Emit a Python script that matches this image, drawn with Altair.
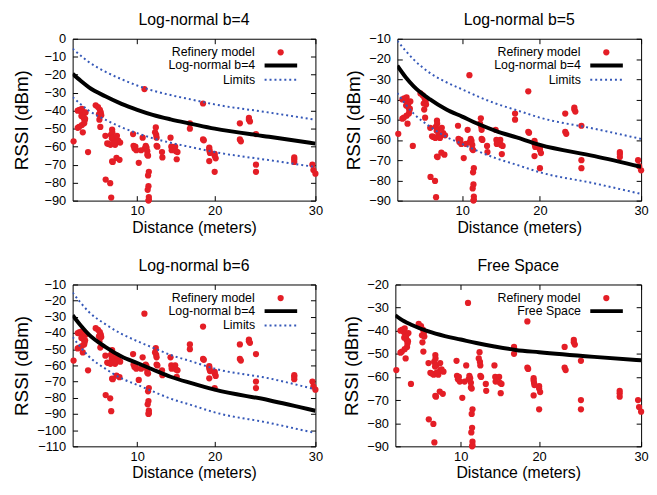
import altair as alt
import pandas as pd

# ---- measured points (distance in meters, RSSI in dBm) ----
DIST = [3.1,
        3.55, 3.75, 3.9, 4.0, 4.1, 4.15, 4.2, 4.3, 4.35, 4.25, 4.0, 3.7, 3.55, 4.1, 3.95, 4.4,
        4.67,
        5.5, 5.75, 5.95, 6.05, 5.85, 6.1, 5.9, 6.0,
        6.55, 6.75, 6.9, 7.15, 7.28, 7.3, 7.25, 7.4, 7.6, 7.8, 7.95, 8.15, 7.8, 7.75, 8.08, 7.28, 7.35,
        6.58, 7.07, 7.18, 7.1, 7.45,
        9.55, 9.6, 9.7, 9.9, 9.8, 10.2, 10.5, 10.7, 10.93, 11.0, 11.1, 11.2, 11.3, 11.3, 11.4,
        11.5, 11.4, 11.45, 11.35, 11.5, 11.5, 11.45,
        12.3, 12.4, 12.45, 12.5, 12.5, 12.6, 13.2, 13.25,
        14.3, 14.4, 14.45, 14.9, 15.0, 15.1, 15.2,
        16.8, 16.8,
        18.5, 18.5, 18.6,
        19.3, 19.3, 19.35, 19.4, 19.3,
        20.0, 20.0, 20.1, 20.0,
        22.5, 22.5, 22.6,
        23.4, 23.4, 23.5,
        24.1, 24.1, 24.1,
        27.9, 27.9, 27.9,
        29.7, 29.8, 30.0]
RSSI = [-57,
        -40, -39.5, -40.5, -39, -41, -42.5, -44, -45.5, -44.5, -47, -48, -49, -49.5, -52, -43, -41,
        -63,
        -37, -38, -39.5, -41, -42, -42.5, -45, -49,
        -54, -58.2, -58.5, -53.5, -50.5, -52, -55.5, -55, -59, -57.3, -56.7, -57.7, -54, -66.3, -67.3, -68.2, -68.5,
        -78.3, -80.3, -88.3, -59, -58,
        -53, -59.5, -61, -62, -60, -69, -62, -55, -28, -61, -59.5, -60.5, -62.5, -64.5, -65,
        -74, -76, -82, -84, -88, -89.5, -90,
        -52, -49.3, -53.5, -55, -59.5, -60, -63, -66,
        -55, -60, -62, -60, -62.5, -67, -63,
        -47, -50,
        -36, -56, -56.5,
        -60.5, -61.5, -62.5, -63.5, -68,
        -64, -65, -66.5, -74,
        -47, -56, -57,
        -44, -45, -46,
        -53, -70, -74,
        -66, -67, -68.5,
        -70, -73, -75]

# ---- model curves ----
CURVE_X = [3, 3.9, 4.77, 6.54, 8.3, 10, 12, 14.3, 17, 20, 25.4, 30]
MODEL4 = [-19.5, -23.5, -27, -32, -36.2, -39.5, -42.3, -44.8, -47.3, -50, -54.5, -58.3]
UPPER4 = [-5.5, -9.5, -13, -18.3, -22.5, -26, -28.8, -31.3, -33.8, -36.5, -41, -45]
LOWER4 = [-32.5, -36.5, -40, -45, -49.2, -52.5, -55.3, -57.8, -60.3, -63, -67.5, -71.3]
MODEL5 = [-23.3, -29, -33.5, -40, -45, -48.5, -52, -55.5, -58.8, -62.5, -68, -73.3]
UPPER5 = [-11, -16, -20.3, -27, -31.5, -35, -38.5, -42, -45.3, -49, -54.5, -59.5]
LOWER5 = [-36.8, -42.5, -47, -53.5, -58.5, -62, -65.5, -69, -72.3, -76, -81.5, -86.7]
MODEL6 = [-29, -35.5, -41, -48.5, -54.5, -58.5, -62.5, -67, -71, -75, -81.5, -88]
UPPER6 = [-15, -21.5, -27, -34.5, -40.5, -45, -49, -53.5, -57.5, -62, -68, -74.8]
LOWER6 = [-42.5, -49, -54.5, -62, -68, -72, -76, -80.5, -84.5, -89, -95.5, -101.8]
FREE = [-33.3, -35.8, -37.5, -40.3, -42.3, -43.8, -45.3, -46.8, -48.3, -49.3, -51.3, -52.8]

X_TICKS = [10, 20, 30]
X_KNOTS = [3, 10, 20, 30]
X_FRAC = [0, 0.266, 0.585, 1.0]

RED = "#e41e26"
BLUE = "#3558b8"
FONT = "Liberation Sans"
H = 164


def legend(x, y, offset, **kw):
    return alt.Legend(orient="none", legendX=x, legendY=y, title=None,
                      labelAlign="right", labelBaseline="middle",
                      labelOffset=alt.ExprRef(expr=str(offset)),
                      labelFontSize=12.5, labelFont=FONT, labelColor="black",
                      padding=0, symbolOffset=0, **kw)


def panel(title, ydom, model_label, model_y, upper_y=None, lower_y=None, width=248,
          ytitle_pad=5):
    W = width
    xscale = alt.Scale(domain=X_KNOTS, range=[f * W for f in X_FRAC], nice=False, zero=False)
    yscale = alt.Scale(domain=ydom, nice=False, zero=False)
    yticks = list(range(ydom[0], ydom[1] + 1, 10))

    pts = pd.DataFrame({"distance": DIST, "rssi": RSSI, "series": "Refinery model"})
    points = alt.Chart(pts).mark_circle(size=40, opacity=1).encode(
        x=alt.X("distance:Q", scale=xscale,
                axis=alt.Axis(orient="bottom", values=X_TICKS, offset=-5, tickSize=5,
                              tickColor="black", domain=False, grid=False, labelPadding=4,
                              labelFlush=False, labelFontSize=13, labelColor="black",
                              labelFont=FONT, title="Distance (meters)", titleFontSize=16,
                              titleFont=FONT, titleFontWeight="normal", titleColor="black",
                              titlePadding=2)),
        y=alt.Y("rssi:Q", scale=yscale,
                axis=alt.Axis(orient="left", values=yticks, offset=-5, tickSize=5,
                              tickColor="black", domain=False, grid=False, labelPadding=7,
                              labelFlush=False, labelFontSize=13, labelColor="black",
                              labelFont=FONT, title="RSSI (dBm)", titleFontSize=19,
                              titleFont=FONT, titleFontWeight="normal", titleColor="black",
                              titlePadding=ytitle_pad)),
        color=alt.Color("series:N", scale=alt.Scale(domain=["Refinery model"], range=[RED]),
                        legend=legend(W - 41.5, 7.5, -32.5, symbolType="circle", symbolSize=40,
                                      symbolStrokeWidth=0, symbolFillColor=RED)),
    )

    mdf = pd.DataFrame({"distance": CURVE_X, "rssi": model_y, "series": model_label})
    model = alt.Chart(mdf).mark_line(strokeWidth=4, interpolate="monotone", clip=True).encode(
        x=alt.X("distance:Q", scale=xscale,
                axis=alt.Axis(orient="top", values=X_TICKS, offset=-5, tickSize=5,
                              tickColor="black", domain=False, grid=False, labels=False,
                              title=None)),
        y=alt.Y("rssi:Q", scale=yscale,
                axis=alt.Axis(orient="right", values=yticks, offset=-5, tickSize=5,
                              tickColor="black", domain=False, grid=False, labels=False,
                              title=None)),
        color=alt.Color("series:N", scale=alt.Scale(domain=[model_label], range=["black"]),
                        legend=legend(W - 53.5, 8.5, -44.5, symbolType="stroke",
                                      symbolSize=1089, symbolStrokeWidth=4,
                                      symbolStrokeColor="black")),
    )
    layers = [points, model]

    if upper_y is not None:
        ldf = pd.DataFrame({
            "distance": CURVE_X + CURVE_X,
            "rssi": upper_y + lower_y,
            "curve": ["upper"] * len(CURVE_X) + ["lower"] * len(CURVE_X),
            "series": "Limits",
        })
        limits = alt.Chart(ldf).mark_line(strokeWidth=2, strokeDash=[2, 3],
                                          interpolate="monotone", clip=True).encode(
            x=alt.X("distance:Q", scale=xscale, axis=None),
            y=alt.Y("rssi:Q", scale=yscale, axis=None),
            detail="curve:N",
            color=alt.Color("series:N", scale=alt.Scale(domain=["Limits"], range=[BLUE]),
                            legend=legend(W - 52.5, 24, -43.5, symbolType="stroke",
                                          symbolSize=1089, symbolStrokeWidth=2,
                                          symbolDash=[2, 3], symbolStrokeColor=BLUE)),
        )
        layers.append(limits)

    return alt.layer(*layers).resolve_scale(color="independent").resolve_axis(
        x="independent", y="independent").properties(
        width=W, height=H,
        title=alt.TitleParams(title, fontSize=16, font=FONT, fontWeight="normal",
                              color="black", anchor="middle", offset=5))


p1 = panel("Log-normal b=4", [-90, 0], "Log-normal b=4", MODEL4, UPPER4, LOWER4, 246,
           ytitle_pad=12.5)
p2 = panel("Log-normal b=5", [-90, -10], "Log-normal b=4", MODEL5, UPPER5, LOWER5, 247)
p3 = panel("Log-normal b=6", [-110, -10], "Log-normal b=4", MODEL6, UPPER6, LOWER6, 246,
           ytitle_pad=5.5)
p4 = panel("Free Space", [-90, -20], "Free Space", FREE, width=249)

chart = alt.vconcat(
    alt.hconcat(p1, p2, spacing=21),
    alt.hconcat(p3, p4, spacing=19),
    spacing=21,
).properties(
    padding={"left": 3.5, "right": 0, "top": 0, "bottom": 0}
).configure(font=FONT).configure_view(stroke="black", strokeWidth=1)

chart.save("out.html", embed_options={"renderer": "svg", "actions": False})
